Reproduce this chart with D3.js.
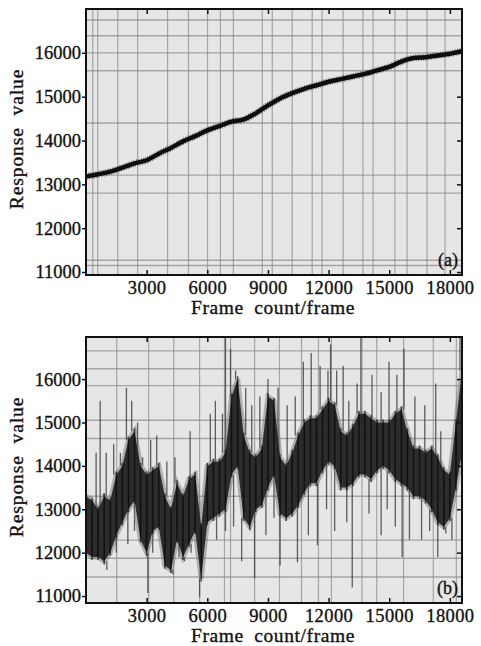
<!DOCTYPE html>
<html>
<head>
<meta charset="utf-8">
<script src="https://cdn.jsdelivr.net/npm/d3@7"></script>
<style>
  html, body { margin: 0; padding: 0; background: #fff; }
  svg { display: block; }
  text { font-family: "Liberation Serif", "Times New Roman", serif; fill: #111; }
</style>
</head>
<body>
<svg id="chart" width="481" height="646"></svg>
<script>
// ---- data ----
const frameTicks = [3000, 6000, 9000, 12000, 15000, 18000];
const responseTicks = [11000, 12000, 13000, 14000, 15000, 16000];

// (a) slow drift
const driftFrames = [0, 600, 1200, 1800, 2400, 3000, 3600, 4200, 4800, 5400, 6000, 6600, 7200, 7800,
  8400, 9000, 9600, 10200, 10800, 11400, 12000, 12600, 13200, 13800, 14400, 15000, 15600, 16200,
  16800, 17400, 18000, 18600];
const driftValues = [13180, 13230, 13290, 13380, 13480, 13550, 13700, 13830, 13980, 14100, 14230,
  14330, 14430, 14480, 14620, 14800, 14960, 15080, 15180, 15260, 15340, 15400, 15460, 15520, 15600,
  15680, 15800, 15880, 15900, 15940, 15980, 16040];

// (b) noisy response: dense core band
const noisyFrames = [0, 300, 600, 900, 1200, 1500, 1800, 2100, 2400, 2700, 3000, 3300, 3600, 3900,
  4200, 4500, 4800, 5100, 5400, 5700, 6000, 6300, 6600, 6900, 7200, 7500, 7800, 8100, 8400, 8700,
  9000, 9300, 9600, 9900, 10200, 10500, 10800, 11100, 11400, 11700, 12000, 12300, 12600, 12900,
  13200, 13500, 13800, 14100, 14400, 14700, 15000, 15300, 15600, 15900, 16200, 16500, 16800, 17100,
  17400, 17700, 18000, 18300, 18600];
const noisyHi = [13300, 13200, 13000, 13300, 13200, 13800, 14000, 14600, 14800, 14000, 13800, 13900,
  14000, 13300, 13000, 13600, 13300, 13700, 13800, 12600, 14000, 14100, 14100, 14300, 15600, 16000,
  14700, 14300, 14200, 14400, 15600, 15500, 14200, 14000, 14300, 14700, 15000, 15100, 15100, 15300,
  15500, 15400, 14800, 14700, 14900, 15200, 15200, 15100, 15000, 15000, 15000, 15200, 15300, 14800,
  14400, 14400, 14300, 14400, 14200, 13900, 13800, 15000, 16200];
const noisyLo = [12000, 11900, 11900, 11800, 12000, 12400, 12700, 13000, 13200, 12300, 12000, 12500,
  12600, 11700, 11600, 12300, 11900, 12200, 12500, 11400, 12700, 12800, 12900, 13000, 13800, 14000,
  12800, 12600, 13000, 13100, 13500, 13800, 12900, 12800, 12900, 13100, 13400, 13600, 13600, 13900,
  14100, 14000, 13500, 13500, 13600, 13800, 13800, 13700, 13900, 14000, 13900, 13700, 13600, 13500,
  13300, 13300, 13200, 13000, 12700, 12600, 12800, 13500, 14300];
// (b) isolated spikes [frame, value]
const spikesUp = [[500, 14300], [700, 15500], [1000, 14300], [1370, 14500], [1700, 14300],
  [2000, 15800], [2260, 15500], [2550, 15000], [2800, 14200], [3200, 14600], [3500, 14700],
  [4000, 14100], [4400, 14200], [5150, 14800], [6150, 15200], [6400, 15500], [6750, 15200],
  [6900, 16950], [7150, 16700], [7400, 16200], [7900, 15800], [8200, 15400], [8600, 15600],
  [9000, 16000], [9500, 15800], [9950, 15400], [10350, 15600], [10750, 16400], [11140, 16600],
  [11580, 16300], [11970, 16200], [12100, 16800], [12400, 16200], [12720, 16300], [13000, 15500],
  [13410, 15900], [13600, 16950], [14150, 16100], [14600, 15700], [14990, 16400], [15380, 16100],
  [15730, 16700], [16270, 15600], [16760, 15400], [17300, 15900], [17550, 14800], [18500, 16950]];
const spikesDown = [[540, 12050], [1030, 11600], [1500, 12000], [2070, 12200], [2400, 12500],
  [3060, 11070], [3300, 12000], [3900, 11700], [4300, 11500], [4600, 11900], [4880, 11800],
  [5200, 12000], [5620, 10980], [6460, 12300], [6900, 12500], [7300, 12600], [7700, 11800],
  [8340, 11410], [8900, 12400], [9300, 12800], [9600, 11700], [10460, 11780], [11000, 12400],
  [11450, 12170], [11900, 13000], [12300, 12500], [12900, 12700], [13170, 11200], [14000, 12900],
  [14600, 12400], [14900, 13000], [15300, 12600], [15640, 11900], [16000, 12300], [16600, 12300],
  [17000, 12500], [17400, 11900], [17800, 12450], [18100, 12300]];

// scanned paper grid, in data units
const gridFramesA = [335, 580, 1570, 2555, 4035, 5070, 6010, 6650, 7290, 8720, 9215, 10200, 11190,
  11680, 12720, 13700, 14200, 15280, 15880, 16870, 17760];
const gridValuesA = [16750, 16390, 16000, 15590, 14400, 13210, 12800, 11270, 11150];
const gridFramesB = [1520, 3100, 4340, 5620, 6850, 7150, 8340, 9570, 10660, 11500, 12140, 13650,
  14380, 15710, 17180, 18320];
const gridValuesB = [16650, 16240, 15850, 15050, 14630, 13300, 12290, 11870, 11440];

// ---- layout ----
const left = 86, right = 462;
const panels = [
  { top: 9, bottom: 275, yMin: 10932, yMax: 17000, label: "(a)" },
  { top: 337, bottom: 603, yMin: 10840, yMax: 16970, label: "(b)" }
];
const FONT = "'Liberation Serif', 'Times New Roman', serif";

const svg = d3.select("#chart");
const x = d3.scaleLinear().domain([0, 18600]).range([left, right]);

function drawPanel(p, gridFrames, gridValues) {
  const y = d3.scaleLinear().domain([p.yMin, p.yMax]).range([p.bottom, p.top]);
  const g = svg.append("g");

  const clipId = "clip" + p.label.replace(/\W/g, "");
  g.append("clipPath").attr("id", clipId)
    .append("rect").attr("x", left).attr("y", p.top)
    .attr("width", right - left).attr("height", p.bottom - p.top);

  g.append("rect")
    .attr("x", left).attr("y", p.top)
    .attr("width", right - left).attr("height", p.bottom - p.top)
    .attr("fill", "#e6e6e6");

  const grid = g.append("g").attr("clip-path", `url(#${clipId})`);
  grid.selectAll(".gv").data(gridFrames).join("line")
    .attr("x1", d => x(d)).attr("x2", d => x(d))
    .attr("y1", p.top).attr("y2", p.bottom)
    .attr("stroke", "#8a8a8a").attr("stroke-width", 1.2).attr("opacity", 0.7);
  grid.selectAll(".gh").data(gridValues).join("line")
    .attr("x1", left).attr("x2", right)
    .attr("y1", d => y(d)).attr("y2", d => y(d))
    .attr("stroke", "#8a8a8a").attr("stroke-width", 1.4).attr("opacity", 0.7);

  return { g, y, clipId };
}

function styleText(sel, size) {
  sel.attr("font-size", size).attr("fill", "#111")
    .attr("stroke", "#111").attr("stroke-width", 0.35)
    .style("font-family", FONT);
}

function drawAxes(g, y, p) {
  // bottom ticks inward
  g.append("g").attr("transform", `translate(0,${p.bottom})`)
    .call(d3.axisBottom(x).tickValues(frameTicks).tickSize(-5).tickPadding(6).tickFormat(d3.format("d")))
    .call(a => a.select(".domain").remove())
    .call(a => a.selectAll("line").attr("stroke", "#111").attr("stroke-width", 1.5))
    .call(a => styleText(a.selectAll("text").attr("letter-spacing", 0.4), 18.5));
  // top ticks inward
  g.append("g").attr("transform", `translate(0,${p.top})`)
    .call(d3.axisTop(x).tickValues(frameTicks).tickSize(-5).tickFormat(""))
    .call(a => a.select(".domain").remove())
    .call(a => a.selectAll("line").attr("stroke", "#111").attr("stroke-width", 1.5));
  // left ticks
  g.append("g").attr("transform", `translate(${left},0)`)
    .call(d3.axisLeft(y).tickValues(responseTicks).tickSize(4).tickPadding(1).tickFormat(d3.format("d")))
    .call(a => a.select(".domain").remove())
    .call(a => a.selectAll("line").attr("stroke", "#111").attr("stroke-width", 1.5))
    .call(a => styleText(a.selectAll("text"), 18.5));
  // right ticks inward
  g.append("g").attr("transform", `translate(${right},0)`)
    .call(d3.axisRight(y).tickValues(responseTicks).tickSize(-5).tickFormat(""))
    .call(a => a.select(".domain").remove())
    .call(a => a.selectAll("line").attr("stroke", "#111").attr("stroke-width", 1.5));

  g.append("rect")
    .attr("x", left).attr("y", p.top)
    .attr("width", right - left).attr("height", p.bottom - p.top)
    .attr("fill", "none").attr("stroke", "#111").attr("stroke-width", 2);

  g.append("text")
    .attr("x", 273).attr("y", p.bottom + 39)
    .attr("text-anchor", "middle")
    .attr("letter-spacing", 0.6).attr("word-spacing", 5)
    .text("Frame count/frame")
    .call(t => styleText(t, 19.5));

  g.append("text")
    .attr("transform", `translate(23,${(p.top + p.bottom) / 2 - 3}) rotate(-90)`)
    .attr("text-anchor", "middle")
    .attr("letter-spacing", 0.9).attr("word-spacing", 6)
    .text("Response value")
    .call(t => styleText(t, 19.5));

  g.append("text")
    .attr("x", right - 4).attr("y", p.bottom - 9)
    .attr("text-anchor", "end")
    .text(p.label)
    .call(t => styleText(t.attr("stroke-width", 0.15), 18));
}

// panel (a)
{
  const p = panels[0];
  const { g, y, clipId } = drawPanel(p, gridFramesA, gridValuesA);
  const drift = driftFrames.map((f, i) => [f, driftValues[i]]);
  const line = d3.line().x(d => x(d[0])).y(d => y(d[1])).curve(d3.curveMonotoneX);
  const plot = g.append("g").attr("clip-path", `url(#${clipId})`);
  plot.append("path").datum(drift)
    .attr("fill", "none").attr("stroke", "#222").attr("stroke-width", 7)
    .attr("stroke-dasharray", "1,1.5").attr("opacity", 0.55).attr("d", line);
  plot.append("path").datum(drift)
    .attr("fill", "none").attr("stroke", "#0d0d0d").attr("stroke-width", 4.5)
    .attr("stroke-linejoin", "round").attr("d", line);
  drawAxes(g, y, p);
}

// panel (b)
{
  const p = panels[1];
  const { g, y, clipId } = drawPanel(p, gridFramesB, gridValuesB);
  const plot = g.append("g").attr("clip-path", `url(#${clipId})`);
  const band = noisyFrames.map((f, i) => ({ f, hi: noisyHi[i], lo: noisyLo[i] }));
  const nearest = f => band[Math.max(0, Math.min(band.length - 1, d3.bisector(d => d.f).center(band, f)))];

  plot.selectAll(".up").data(spikesUp).join("line")
    .attr("x1", d => x(d[0])).attr("x2", d => x(d[0]))
    .attr("y1", d => y(nearest(d[0]).hi)).attr("y2", d => y(d[1]))
    .attr("stroke", "#3a3a3a").attr("stroke-width", 1.3).attr("opacity", 0.8);
  plot.selectAll(".down").data(spikesDown).join("line")
    .attr("x1", d => x(d[0])).attr("x2", d => x(d[0]))
    .attr("y1", d => y(nearest(d[0]).lo)).attr("y2", d => y(d[1]))
    .attr("stroke", "#3a3a3a").attr("stroke-width", 1.3).attr("opacity", 0.8);

  const area = d3.area().x(d => x(d.f)).y0(d => y(d.lo)).y1(d => y(d.hi));
  // grey fringe around the dense core
  plot.append("path").datum(band)
    .attr("fill", "#555").attr("stroke", "#6a6a6a").attr("stroke-width", 5)
    .attr("opacity", 0.45).attr("d", area);
  plot.append("path").datum(band)
    .attr("fill", "#1b1b1b").attr("opacity", 0.88).attr("d", area);
  // vertical streaks at each sample
  plot.selectAll(".streak").data(band).join("line")
    .attr("x1", d => x(d.f)).attr("x2", d => x(d.f))
    .attr("y1", d => y(d.lo) + 3).attr("y2", d => y(d.hi) - 3)
    .attr("stroke", "#000").attr("stroke-width", 1.6).attr("opacity", 0.6);
  drawAxes(g, y, p);
}
</script>
</body>
</html>
